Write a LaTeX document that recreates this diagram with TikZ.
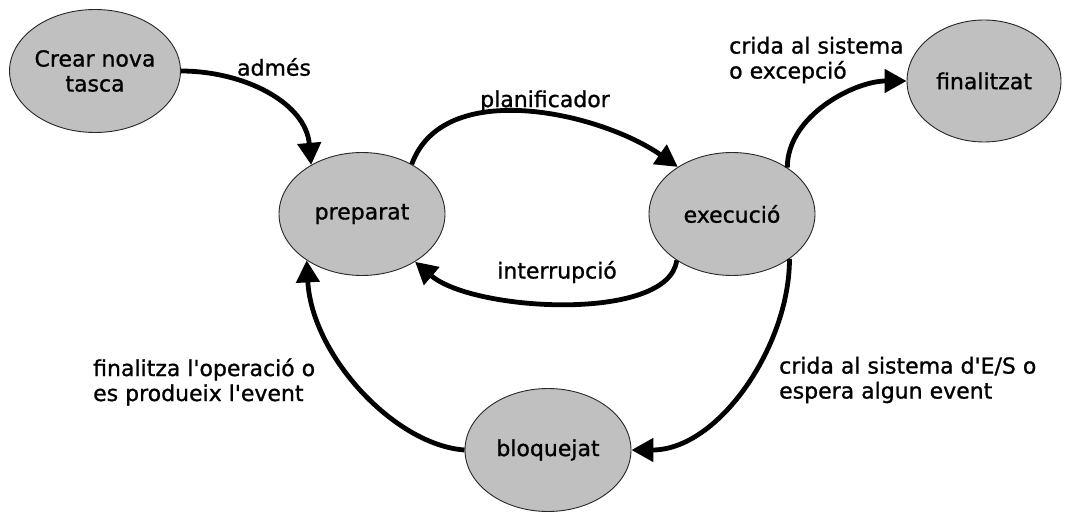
\documentclass[tikz,border=0pt]{standalone}
\usepackage{fontspec}
\setmainfont{DejaVu Sans}[FakeBold=1]
\usetikzlibrary{shapes.geometric,arrows.meta}
\definecolor{statefill}{HTML}{C0C0C0}
\newcommand{\ap}{\textquotesingle}
\tikzset{
  state/.style={ellipse, draw=black!85, line width=0.9pt, fill=statefill,
    minimum width=166pt, minimum height=123pt, inner sep=0pt,
    align=center, font=\fontsize{22}{25}\selectfont},
  trans/.style={line width=4.8pt, -{Triangle[length=22pt,width=23pt]}},
  lbl/.style={font=\fontsize{22}{25}\selectfont, inner sep=0pt},
  lbll/.style={lbl, align=left, anchor=west}
}
\begin{document}
\begin{tikzpicture}[x=1pt,y=-1pt]
\useasboundingbox (0,0) rectangle (1068,513);

% states
\node[state] (crear) at (95,71)   {Crear nova\\tasca};
\node[state] (prep)  at (362,214) {preparat};
\node[state] (exec)  at (732,214) {execució};
\node[state, minimum width=154pt, minimum height=122pt] (fin) at (984,81) {finalitzat};
\node[state] (bloq)  at (548,450) {bloquejat};

% transitions
\draw[trans] (crear.east) to[out=0,in=95] (prep.136);
\draw[trans] (prep.45) to[out=70,in=145,looseness=0.9] (exec.139);
\draw[trans] (exec.220) .. controls +(-8,62) and +(58,50) .. (prep.318);
\draw[trans] (exec.40) to[out=90,in=180,looseness=0.9] (fin.west);
\draw[trans] (exec.322) to[out=-90,in=0,looseness=0.9] (bloq.east);
\draw[trans] (bloq.west) .. controls +(-70,-5) and +(5,95) .. (prep.220);

% labels
\node[lbl] (ladm) at (274,67) {admés};
\node[lbl] (lplan) at (545,101) {planificador};
\node[lbl] (lint) at (557,272) {interrupció};
\node[lbll] (lfin) at (729,60) {crida al sistema\\o excepció};
\node[lbll] (lbloq) at (779,380) {crida al sistema d\ap E/S o\\espera algun event};
\node[lbll] (lret) at (93,382) {finalitza l\ap operació o\\es produeix l\ap event};
\end{tikzpicture}
\end{document}
